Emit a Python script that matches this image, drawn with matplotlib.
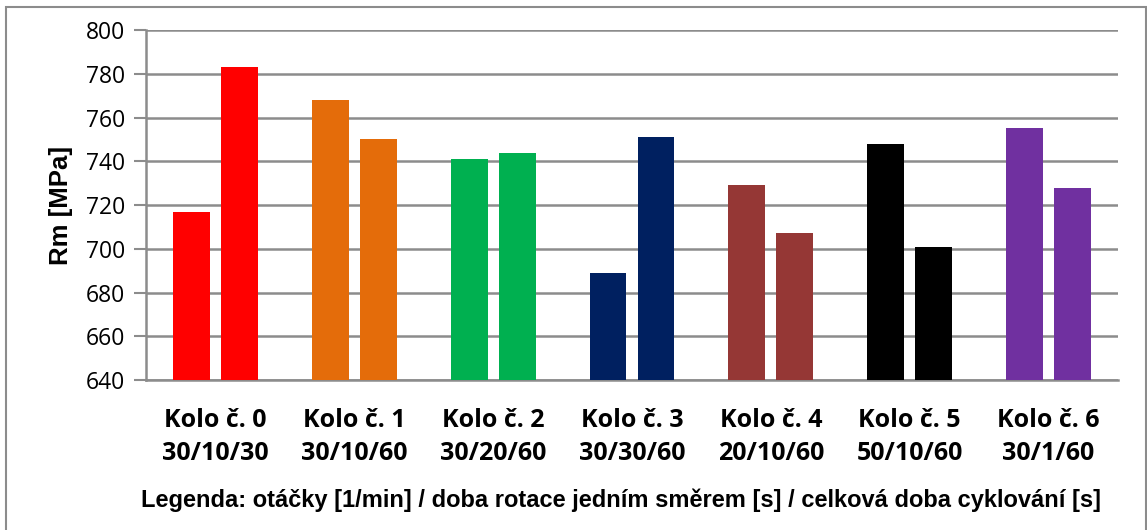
import matplotlib
matplotlib.use('Agg')
import matplotlib.pyplot as plt
from matplotlib.patches import Rectangle
import numpy as np

# ── Data ──────────────────────────────────────────────────────────────────────
categories = ['Kolo č. 0\n30/10/30', 'Kolo č. 1\n30/10/60', 'Kolo č. 2\n30/20/60',
              'Kolo č. 3\n30/30/60', 'Kolo č. 4\n20/10/60', 'Kolo č. 5\n50/10/60',
              'Kolo č. 6\n30/1/60']
first_bar = [717, 768, 741, 689, 729, 748, 755]
second_bar = [783, 750, 744, 751, 707, 701, 728]
colors = ['#FF0000', '#E46C0A', '#00B050', '#002060', '#953735', '#000000', '#7030A0']
yticks = [640, 660, 680, 700, 720, 740, 760, 780, 800]

GRID = '#8C8C8C'

fig = plt.figure(figsize=(11.47, 5.30), dpi=100)
ax = fig.add_axes([0.1273, 0.283, 0.8474, 0.6604])

x = np.arange(len(categories))
w = 0.266
off = 0.173
ax.bar(x - off, np.array(first_bar) - 640, width=w, bottom=640, color=colors, zorder=3)
ax.bar(x + off, np.array(second_bar) - 640, width=w, bottom=640, color=colors, zorder=3)

ax.set_xlim(-0.5, len(categories) - 0.5)
ax.set_ylim(640, 800)
ax.set_yticks(yticks)
ax.set_yticklabels([str(v) for v in yticks], fontsize=16.5, family='Open Sans')
ax.tick_params(axis='y', length=9, width=1.5, color=GRID, pad=6)
ax.grid(axis='y', color=GRID, linewidth=1.8, zorder=0)
ax.set_axisbelow(True)

ax.set_xticks(x)
ax.set_xticklabels(categories, fontsize=18, fontweight='bold', family='Open Sans',
                   linespacing=1.45)
ax.tick_params(axis='x', length=0, pad=20)

for s in ['top', 'right']:
    ax.spines[s].set_visible(False)
for s in ['left', 'bottom']:
    ax.spines[s].set_color(GRID)
    ax.spines[s].set_linewidth(1.8)

ax.set_ylabel('Rm [MPa]', fontsize=18.5, fontweight='bold', family='Liberation Sans',
              labelpad=9)

fig.text(0.5415, 0.057, 'Legenda: otáčky [1/min] / doba rotace jedním směrem [s] / '
         'celková doba cyklování [s]', ha='center', va='center',
         fontsize=17, fontweight='bold', family='Liberation Sans')

# outer chart frame
fig.patches.append(Rectangle((6 / 1147, -0.01), 1140 / 1147, 1 - 7 / 530 + 0.01,
                             transform=fig.transFigure, fill=False,
                             edgecolor='#8C8C8C', linewidth=1.5))

fig.savefig('out.png', dpi=100)
